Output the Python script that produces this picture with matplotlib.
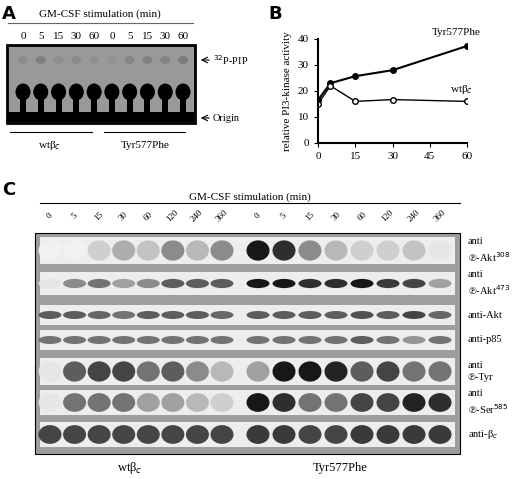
import matplotlib
matplotlib.use("Agg")
import matplotlib.pyplot as plt
from matplotlib.patches import Rectangle, Ellipse
import numpy as np

plt.rcParams['font.family'] = ['Liberation Serif', 'DejaVu Serif']

# Panel B data
time_min = [0, 5, 15, 30, 60]
tyr577phe = [16.5, 23.0, 25.7, 28.0, 37.3]
wt_bc = [15.0, 22.0, 16.0, 16.7, 16.0]
b_xticks = [0, 15, 30, 45, 60]
b_yticks = [0, 10, 20, 30, 40]

# Panel A data
a_lanes = ['0', '5', '15', '30', '60', '0', '5', '15', '30', '60']
a_pip = [0.15, 0.35, 0.15, 0.2, 0.12, 0.12, 0.25, 0.3, 0.3, 0.4]

# Panel C data
c_lanes = ['0', '5', '15', '30', '60', '120', '240', '360']
c_rows = ['anti\n℗-Akt$^{308}$', 'anti\n℗-Akt$^{473}$', 'anti-Akt', 'anti-p85',
          'anti\n℗-Tyr', 'anti\n℗-Ser$^{585}$', 'anti-β$_c$']
c_wt = [
    [0.05, 0.05, 0.2, 0.35, 0.25, 0.5, 0.3, 0.5],
    [0.1, 0.5, 0.6, 0.4, 0.5, 0.7, 0.7, 0.7],
    [0.7, 0.7, 0.65, 0.6, 0.7, 0.7, 0.7, 0.65],
    [0.6, 0.6, 0.6, 0.6, 0.6, 0.6, 0.6, 0.6],
    [0.1, 0.7, 0.8, 0.8, 0.6, 0.7, 0.5, 0.3],
    [0.1, 0.6, 0.6, 0.6, 0.4, 0.4, 0.3, 0.2],
    [0.8, 0.8, 0.8, 0.8, 0.8, 0.8, 0.8, 0.8],
]
c_tyr = [
    [1.0, 0.9, 0.5, 0.3, 0.2, 0.2, 0.25, 0.1],
    [1.0, 1.0, 0.9, 0.9, 1.0, 0.85, 0.8, 0.4],
    [0.7, 0.7, 0.7, 0.7, 0.75, 0.7, 0.8, 0.65],
    [0.6, 0.6, 0.6, 0.6, 0.7, 0.6, 0.45, 0.6],
    [0.4, 1.0, 1.0, 0.95, 0.7, 0.8, 0.6, 0.6],
    [1.0, 0.9, 0.6, 0.6, 0.8, 0.8, 0.95, 0.9],
    [0.85, 0.85, 0.8, 0.8, 0.85, 0.85, 0.85, 0.85],
]

fig = plt.figure(figsize=(5.2, 4.79), dpi=100)
ax = fig.add_axes([0, 0, 1, 1])
ax.set_xlim(0, 520); ax.set_ylim(479, 0); ax.axis('off')

def gray(v):
    return (1 - v, 1 - v, 1 - v)

# ---------- Panel A ----------
ax.text(2, 14, 'A', fontsize=13, fontweight='bold', family='DejaVu Sans', va='center')
ax.text(100, 14, 'GM-CSF stimulation (min)', fontsize=8, ha='center', va='center')
ax.plot([8, 193], [23, 23], color='0.4', lw=0.8)
ax_x = np.linspace(23, 183, len(a_lanes))
for x, l in zip(ax_x, a_lanes):
    ax.text(x, 36, l, fontsize=8, ha='center', va='center')
ax.add_patch(Rectangle((7, 45), 188, 78, facecolor='0.6', edgecolor='black', lw=2))
ax.add_patch(Rectangle((8, 112), 186, 10, facecolor='black', edgecolor='none'))
for x, p in zip(ax_x, a_pip):
    ax.add_patch(Ellipse((x, 60), 10, 8, facecolor=gray(0.4 + p * 0.5), edgecolor='none', alpha=0.6))
    ax.add_patch(Ellipse((x, 92), 15, 17, facecolor='black', edgecolor='none'))
    ax.add_patch(Rectangle((x - 3, 92), 6, 22, facecolor='black', edgecolor='none'))
ax.annotate('', xy=(198, 60), xytext=(212, 60), arrowprops=dict(arrowstyle='->', lw=0.8))
ax.text(213, 60, '$^{32}$P-PIP', fontsize=7.5, va='center')
ax.annotate('', xy=(198, 118), xytext=(212, 118), arrowprops=dict(arrowstyle='->', lw=0.8))
ax.text(213, 118, 'Origin', fontsize=7.5, va='center')
ax.plot([10, 92], [132, 132], color='black', lw=0.8)
ax.plot([104, 185], [132, 132], color='black', lw=0.8)
ax.text(50, 146, 'wtβ$_c$', fontsize=8, ha='center', va='center')
ax.text(145, 146, 'Tyr577Phe', fontsize=8, ha='center', va='center')

# ---------- Panel B ----------
ax.text(268, 14, 'B', fontsize=13, fontweight='bold', family='DejaVu Sans', va='center')
bx = fig.add_axes([318 / 520, 1 - 143 / 479, 149 / 520, 104 / 479])
bx.plot(time_min, tyr577phe, '-o', color='black', lw=1.5, ms=4, mfc='black')
bx.plot(time_min, wt_bc, '-o', color='black', lw=1.0, ms=4, mfc='white')
bx.set_xlim(0, 60); bx.set_ylim(0, 40)
bx.set_xticks(b_xticks); bx.set_yticks(b_yticks)
bx.spines['top'].set_visible(False); bx.spines['right'].set_visible(False)
bx.spines['left'].set_linewidth(1.5); bx.spines['bottom'].set_linewidth(1.5)
bx.tick_params(labelsize=8, length=3)
bx.set_ylabel('relative PI3-kinase activity', fontsize=8)
bx.text(46, 41.5, 'Tyr577Phe', fontsize=8)
bx.text(53, 19.5, 'wtβ$_c$', fontsize=8)

# ---------- Panel C ----------
ax.text(2, 190, 'C', fontsize=13, fontweight='bold', family='DejaVu Sans', va='center')
ax.text(250, 197, 'GM-CSF stimulation (min)', fontsize=8, ha='center', va='center')
ax.plot([40, 460], [203, 203], color='black', lw=0.8)
wt_x = np.linspace(50, 222, 8)
ty_x = np.linspace(258, 440, 8)
for xs in (wt_x, ty_x):
    for x, l in zip(xs, c_lanes):
        ax.text(x, 216, l, fontsize=6.5, ha='center', va='center', rotation=45)
ax.add_patch(Rectangle((35, 233), 425, 221, facecolor='0.62', edgecolor='black', lw=0.8))
strips = [(237, 264), (272, 295), (305, 325), (330, 350), (358, 385), (390, 415), (422, 447)]
for (y0, y1), label, wr, tr in zip(strips, c_rows, c_wt, c_tyr):
    ax.add_patch(Rectangle((40, y0), 415, y1 - y0, facecolor='0.93', edgecolor='none'))
    yc = (y0 + y1) / 2
    h = (y1 - y0) * (0.75 if (y1 - y0) > 24 else 0.4)
    for xs, vals in ((wt_x, wr), (ty_x, tr)):
        for x, v in zip(xs, vals):
            ax.add_patch(Ellipse((x, yc), 23, h, facecolor=gray(v), edgecolor='none', alpha=0.9))
    ax.text(468, yc, label, fontsize=7.5, va='center', linespacing=1.3)
ax.text(130, 468, 'wtβ$_c$', fontsize=9, ha='center', va='center')
ax.text(340, 468, 'Tyr577Phe', fontsize=9, ha='center', va='center')

fig.savefig('out.png', dpi=100)
